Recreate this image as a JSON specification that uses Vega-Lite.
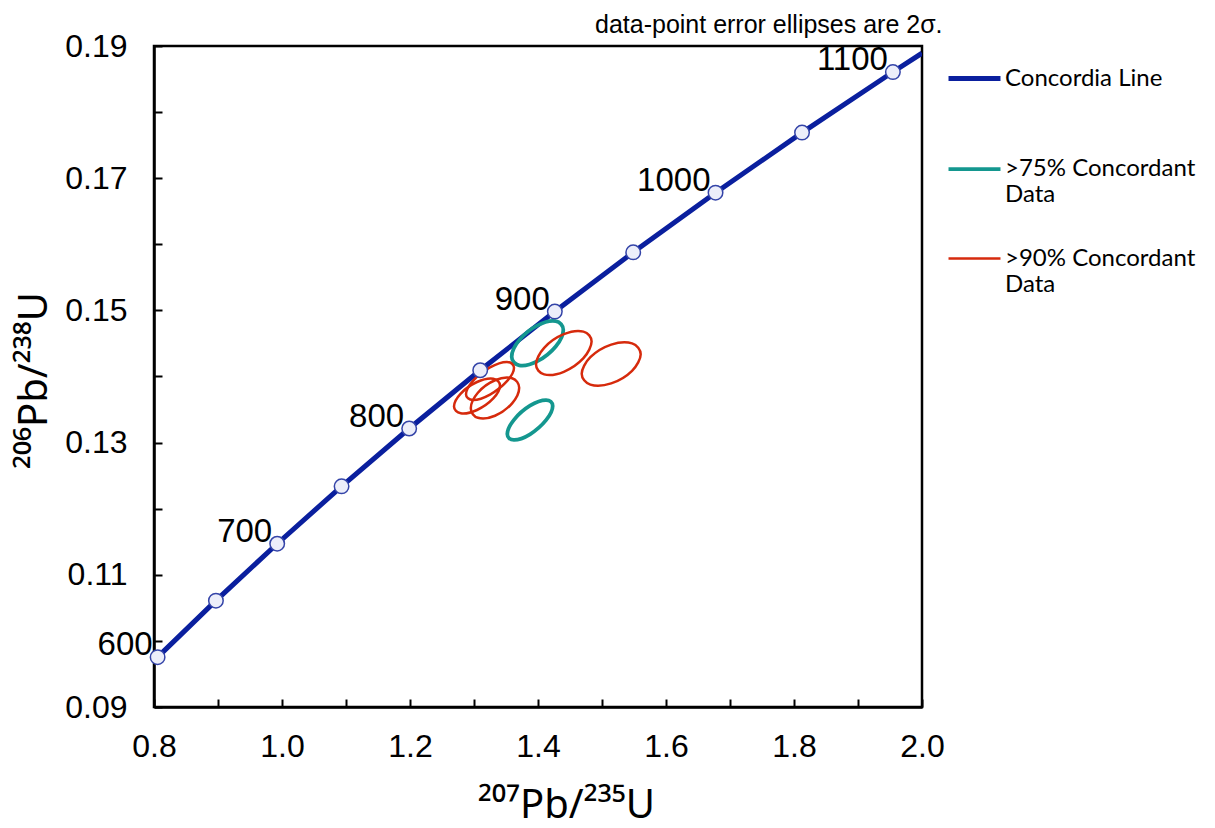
{
  "$schema": "https://vega.github.io/schema/vega-lite/v6.json",
  "width": 768,
  "height": 661,
  "autosize": {"type": "none"},
  "padding": {"left": 154, "top": 46, "right": 293, "bottom": 121},
  "background": "white",
  "view": {"stroke": "black", "strokeWidth": 2.5},
  "config": {
    "font": "Liberation Sans",
    "axis": {
      "grid": false,
      "domainColor": "black",
      "domainWidth": 2.5,
      "tickColor": "black",
      "tickWidth": 2,
      "tickSize": -8,
      "labelFont": "Liberation Sans",
      "labelFontSize": 32,
      "labelColor": "black",
      "labelFlush": false,
      "labelOverlap": false,
      "titleFont": "Noto Sans",
      "titleFontWeight": "normal",
      "titleColor": "black",
      "titleFontSize": 40
    }
  },
  "title": {
    "text": "data-point error ellipses are 2σ.",
    "anchor": "start",
    "frame": "group",
    "dx": 441,
    "dy": 42,
    "offset": 14,
    "baseline": "alphabetic",
    "font": "Liberation Sans",
    "fontSize": 25,
    "fontWeight": "normal",
    "color": "black"
  },
  "datasets": {
    "concordia": [
      {"series": "Concordia Line", "t": 596.83, "x": 0.8, "y": 0.097004},
      {"series": "Concordia Line", "t": 600, "x": 0.80565, "y": 0.097544},
      {"series": "Concordia Line", "t": 650, "x": 0.89677, "y": 0.10609},
      {"series": "Concordia Line", "t": 700, "x": 0.99251, "y": 0.114702},
      {"series": "Concordia Line", "t": 750, "x": 1.09308, "y": 0.123382},
      {"series": "Concordia Line", "t": 800, "x": 1.19873, "y": 0.13213},
      {"series": "Concordia Line", "t": 850, "x": 1.30971, "y": 0.140944},
      {"series": "Concordia Line", "t": 900, "x": 1.42629, "y": 0.149828},
      {"series": "Concordia Line", "t": 950, "x": 1.54876, "y": 0.158781},
      {"series": "Concordia Line", "t": 1000, "x": 1.67741, "y": 0.167804},
      {"series": "Concordia Line", "t": 1050, "x": 1.81255, "y": 0.176897},
      {"series": "Concordia Line", "t": 1100, "x": 1.95452, "y": 0.18606},
      {"series": "Concordia Line", "t": 1115.5, "x": 2.0, "y": 0.188919}
    ],
    "ages": [
      {"t": 600, "label": "600", "x": 0.80565, "y": 0.097544},
      {"t": 650, "label": "", "x": 0.89677, "y": 0.10609},
      {"t": 700, "label": "700", "x": 0.99251, "y": 0.114702},
      {"t": 750, "label": "", "x": 1.09308, "y": 0.123382},
      {"t": 800, "label": "800", "x": 1.19873, "y": 0.13213},
      {"t": 850, "label": "", "x": 1.30971, "y": 0.140944},
      {"t": 900, "label": "900", "x": 1.42629, "y": 0.149828},
      {"t": 950, "label": "", "x": 1.54876, "y": 0.158781},
      {"t": 1000, "label": "1000", "x": 1.67741, "y": 0.167804},
      {"t": 1050, "label": "", "x": 1.81255, "y": 0.176897},
      {"t": 1100, "label": "1100", "x": 1.95452, "y": 0.18606}
    ],
    "ellipses": [
      {"series": ">75% Concordant Data", "id": "A", "i": 0, "x": 1.43953, "y": 0.147047},
      {"series": ">75% Concordant Data", "id": "A", "i": 1, "x": 1.42773, "y": 0.148363},
      {"series": ">75% Concordant Data", "id": "A", "i": 2, "x": 1.39922, "y": 0.147722},
      {"series": ">75% Concordant Data", "id": "A", "i": 3, "x": 1.37072, "y": 0.1455},
      {"series": ">75% Concordant Data", "id": "A", "i": 4, "x": 1.35891, "y": 0.142999},
      {"series": ">75% Concordant Data", "id": "A", "i": 5, "x": 1.37072, "y": 0.141683},
      {"series": ">75% Concordant Data", "id": "A", "i": 6, "x": 1.39922, "y": 0.142324},
      {"series": ">75% Concordant Data", "id": "A", "i": 7, "x": 1.42773, "y": 0.144546},
      {"series": ">75% Concordant Data", "id": "D", "i": 0, "x": 1.42297, "y": 0.135537},
      {"series": ">75% Concordant Data", "id": "D", "i": 1, "x": 1.41258, "y": 0.136444},
      {"series": ">75% Concordant Data", "id": "D", "i": 2, "x": 1.3875, "y": 0.13558},
      {"series": ">75% Concordant Data", "id": "D", "i": 3, "x": 1.36242, "y": 0.133449},
      {"series": ">75% Concordant Data", "id": "D", "i": 4, "x": 1.35203, "y": 0.131301},
      {"series": ">75% Concordant Data", "id": "D", "i": 5, "x": 1.36242, "y": 0.130394},
      {"series": ">75% Concordant Data", "id": "D", "i": 6, "x": 1.3875, "y": 0.131258},
      {"series": ">75% Concordant Data", "id": "D", "i": 7, "x": 1.41258, "y": 0.133389},
      {"series": ">90% Concordant Data", "id": "B", "i": 0, "x": 1.48375, "y": 0.145286},
      {"series": ">90% Concordant Data", "id": "B", "i": 1, "x": 1.47103, "y": 0.146789},
      {"series": ">90% Concordant Data", "id": "B", "i": 2, "x": 1.44031, "y": 0.146398},
      {"series": ">90% Concordant Data", "id": "B", "i": 3, "x": 1.4096, "y": 0.144342},
      {"series": ">90% Concordant Data", "id": "B", "i": 4, "x": 1.39687, "y": 0.141824},
      {"series": ">90% Concordant Data", "id": "B", "i": 5, "x": 1.4096, "y": 0.140321},
      {"series": ">90% Concordant Data", "id": "B", "i": 6, "x": 1.44031, "y": 0.140712},
      {"series": ">90% Concordant Data", "id": "B", "i": 7, "x": 1.47103, "y": 0.142768},
      {"series": ">90% Concordant Data", "id": "C", "i": 0, "x": 1.56047, "y": 0.143368},
      {"series": ">90% Concordant Data", "id": "C", "i": 1, "x": 1.54697, "y": 0.145009},
      {"series": ">90% Concordant Data", "id": "C", "i": 2, "x": 1.51438, "y": 0.144823},
      {"series": ">90% Concordant Data", "id": "C", "i": 3, "x": 1.48179, "y": 0.142919},
      {"series": ">90% Concordant Data", "id": "C", "i": 4, "x": 1.46829, "y": 0.140414},
      {"series": ">90% Concordant Data", "id": "C", "i": 5, "x": 1.48179, "y": 0.138773},
      {"series": ">90% Concordant Data", "id": "C", "i": 6, "x": 1.51438, "y": 0.138959},
      {"series": ">90% Concordant Data", "id": "C", "i": 7, "x": 1.54697, "y": 0.140863},
      {"series": ">90% Concordant Data", "id": "E", "i": 0, "x": 1.3625, "y": 0.141331},
      {"series": ">90% Concordant Data", "id": "E", "i": 1, "x": 1.35152, "y": 0.142193},
      {"series": ">90% Concordant Data", "id": "E", "i": 2, "x": 1.325, "y": 0.141372},
      {"series": ">90% Concordant Data", "id": "E", "i": 3, "x": 1.29848, "y": 0.139348},
      {"series": ">90% Concordant Data", "id": "E", "i": 4, "x": 1.2875, "y": 0.137307},
      {"series": ">90% Concordant Data", "id": "E", "i": 5, "x": 1.29848, "y": 0.136445},
      {"series": ">90% Concordant Data", "id": "E", "i": 6, "x": 1.325, "y": 0.137266},
      {"series": ">90% Concordant Data", "id": "E", "i": 7, "x": 1.35152, "y": 0.13929},
      {"series": ">90% Concordant Data", "id": "F", "i": 0, "x": 1.34063, "y": 0.138639},
      {"series": ">90% Concordant Data", "id": "F", "i": 1, "x": 1.3301, "y": 0.139671},
      {"series": ">90% Concordant Data", "id": "F", "i": 2, "x": 1.30469, "y": 0.139168},
      {"series": ">90% Concordant Data", "id": "F", "i": 3, "x": 1.27928, "y": 0.137424},
      {"series": ">90% Concordant Data", "id": "F", "i": 4, "x": 1.26875, "y": 0.135462},
      {"series": ">90% Concordant Data", "id": "F", "i": 5, "x": 1.27928, "y": 0.134429},
      {"series": ">90% Concordant Data", "id": "F", "i": 6, "x": 1.30469, "y": 0.134932},
      {"series": ">90% Concordant Data", "id": "F", "i": 7, "x": 1.3301, "y": 0.136676},
      {"series": ">90% Concordant Data", "id": "G", "i": 0, "x": 1.37062, "y": 0.138298},
      {"series": ">90% Concordant Data", "id": "G", "i": 1, "x": 1.35955, "y": 0.139743},
      {"series": ">90% Concordant Data", "id": "G", "i": 2, "x": 1.33281, "y": 0.139433},
      {"series": ">90% Concordant Data", "id": "G", "i": 3, "x": 1.30607, "y": 0.13755},
      {"series": ">90% Concordant Data", "id": "G", "i": 4, "x": 1.295, "y": 0.135196},
      {"series": ">90% Concordant Data", "id": "G", "i": 5, "x": 1.30607, "y": 0.133751},
      {"series": ">90% Concordant Data", "id": "G", "i": 6, "x": 1.33281, "y": 0.134061},
      {"series": ">90% Concordant Data", "id": "G", "i": 7, "x": 1.35955, "y": 0.135944}
    ]
  },
  "encoding": {
    "x": {
      "field": "x",
      "type": "quantitative",
      "scale": {"domain": [0.8, 2.0], "nice": false, "zero": false},
      "axis": {
        "values": [0.8, 0.9, 1.0, 1.1, 1.2, 1.3, 1.4, 1.5, 1.6, 1.7, 1.8, 1.9, 2.0],
        "labelExpr": "round(datum.value * 10) % 2 == 0 ? format(datum.value, '.1f') : ''",
        "labelPadding": 32,
        "title": "²⁰⁷Pb/²³⁵U",
        "titleX": 412,
        "titleY": 110,
        "titleAlign": "center",
        "titleBaseline": "alphabetic"
      }
    },
    "y": {
      "field": "y",
      "type": "quantitative",
      "scale": {"domain": [0.09, 0.19], "nice": false, "zero": false},
      "axis": {
        "values": [0.09, 0.1, 0.11, 0.12, 0.13, 0.14, 0.15, 0.16, 0.17, 0.18, 0.19],
        "labelExpr": "round(datum.value * 100) % 2 == 1 ? format(datum.value, '.2f') : ''",
        "labelPadding": 35,
        "title": "²⁰⁶Pb/²³⁸U",
        "titleX": -120,
        "titleY": 334,
        "titleAngle": -90,
        "titleAlign": "center",
        "titleBaseline": "middle"
      }
    }
  },
  "layer": [
    {
      "data": {"name": "concordia"},
      "mark": {"type": "line", "clip": true},
      "encoding": {
        "color": {
          "field": "series",
          "type": "nominal",
          "scale": {
            "domain": ["Concordia Line", ">75% Concordant Data", ">90% Concordant Data"],
            "range": ["#0a1f9e", "#14978f", "#d62a0c"]
          },
          "legend": {
            "orient": "none",
            "legendX": 792,
            "legendY": 4,
            "title": null,
            "symbolType": "stroke",
            "symbolSize": 2700,
            "labelFont": "Lato",
            "labelFontSize": 24,
            "labelColor": "black",
            "labelOffset": 2,
            "labelLimit": 0,
            "rowPadding": 24,
            "labelBaseline": "middle",
            "labelExpr": "datum.label == 'Concordia Line' ? [datum.label, ' '] : [replace(datum.label, ' Data', ''), 'Data']"
          }
        },
        "strokeWidth": {
          "field": "series",
          "type": "nominal",
          "scale": {
            "domain": ["Concordia Line", ">75% Concordant Data", ">90% Concordant Data"],
            "range": [5, 2.5, 2.5]
          },
          "legend": null
        }
      }
    },
    {
      "data": {"name": "ellipses"},
      "mark": {"type": "line", "interpolate": "cardinal-closed"},
      "encoding": {
        "color": {"field": "series", "type": "nominal"},
        "strokeWidth": {"field": "series", "type": "nominal"},
        "detail": {"field": "id"},
        "order": {"field": "i", "type": "quantitative"}
      }
    },
    {
      "data": {"name": "ages"},
      "mark": {"type": "point", "shape": "circle", "filled": true, "size": 210, "fill": "#eceefa", "stroke": "#3444a8", "strokeWidth": 1.5, "opacity": 1}
    },
    {
      "data": {"name": "ages"},
      "transform": [{"filter": "datum.label != ''"}],
      "mark": {"type": "text", "align": "right", "baseline": "middle", "dx": -5, "dy": -12, "fontSize": 33, "font": "Liberation Sans", "color": "black"},
      "encoding": {"text": {"field": "label", "type": "nominal"}}
    }
  ]
}
